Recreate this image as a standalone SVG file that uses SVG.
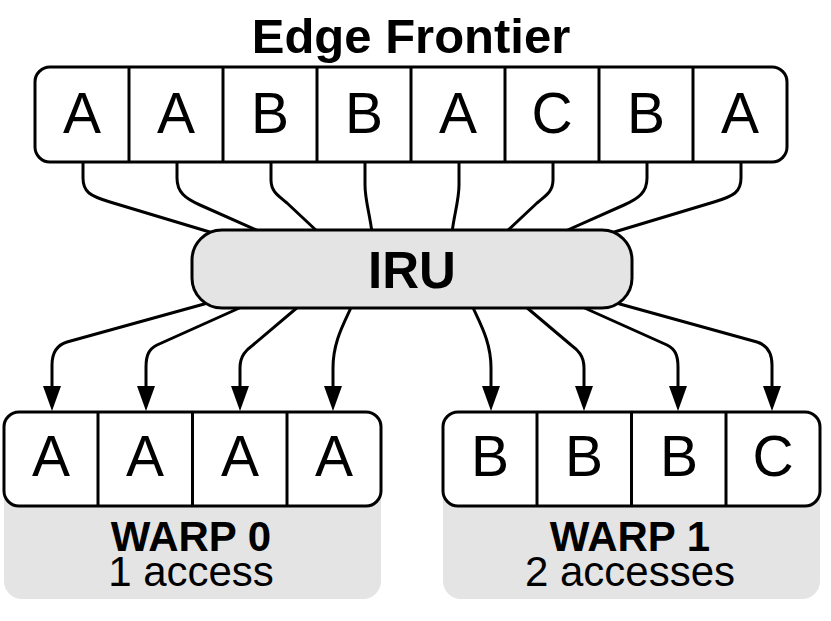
<svg xmlns="http://www.w3.org/2000/svg" width="831" height="621" viewBox="0 0 831 621">
<style>
.box{fill:#fff;stroke:#000;stroke-width:3}
.div{stroke:#000;stroke-width:3}
.grey{fill:#e4e4e4}
.conn{fill:none;stroke:#000;stroke-width:3}
.cell{font-family:"Liberation Sans",Arial,sans-serif;font-size:57px;text-anchor:middle;fill:#000}
.bold{font-family:"Liberation Sans",Arial,sans-serif;font-weight:bold;text-anchor:middle;fill:#000}
.norm{font-family:"Liberation Sans",Arial,sans-serif;text-anchor:middle;fill:#000}
</style>
<defs>
<marker id="arr" markerUnits="userSpaceOnUse" markerWidth="26" markerHeight="20" refX="19" refY="9" orient="auto">
<path d="M0,0 L25,9 L0,18 z" fill="#000"/>
</marker>
</defs>
<rect width="831" height="621" fill="#fff"/>
<text class="bold" x="411" y="53" font-size="49">Edge Frontier</text>

<g id="connectors">
<path class="conn" d="M83,162 V178 C83,192 90,196 110,202 L213,233"/>
<path class="conn" d="M177,162 V178 C177,192 185,198.5 200,205 L263,233"/>
<path class="conn" d="M271,162 V180 C271,192 279,196 287,203 L319,233"/>
<path class="conn" d="M365,162 V185 C365,200 370,215 372,233"/>
<path class="conn" d="M459,162 V185 C459,200 454,215 452,233"/>
<path class="conn" d="M553,162 V180 C553,192 545,196 537,203 L505,233"/>
<path class="conn" d="M647,162 V178 C647,192 639,198.5 624,205 L561,233"/>
<path class="conn" d="M741,162 V178 C741,192 734,196 714,202 L611,233"/>

<path class="conn" marker-end="url(#arr)" d="M215,301 L67,342 C57,345 52,352 52,365 V405"/>
<path class="conn" marker-end="url(#arr)" d="M255,301 L157,345 C149,349 146,355 146,367 V405"/>
<path class="conn" marker-end="url(#arr)" d="M305,301 L253,345 C246,350 240,356 240,368 V405"/>
<path class="conn" marker-end="url(#arr)" d="M354,301 C345,322 333,340 333,368 V405"/>
<path class="conn" marker-end="url(#arr)" d="M470,301 C479,322 491,340 491,368 V405"/>
<path class="conn" marker-end="url(#arr)" d="M519,301 L571,345 C578,350 584,356 584,368 V405"/>
<path class="conn" marker-end="url(#arr)" d="M569,301 L667,345 C675,349 678,355 678,367 V405"/>
<path class="conn" marker-end="url(#arr)" d="M609,301 L757,342 C767,345 772,352 772,365 V405"/>
</g>

<g id="edge-frontier">
<rect class="box" x="35" y="67" width="752" height="95" rx="15"/>
<line class="div" x1="129" y1="67" x2="129" y2="162"/>
<line class="div" x1="223" y1="67" x2="223" y2="162"/>
<line class="div" x1="317" y1="67" x2="317" y2="162"/>
<line class="div" x1="411" y1="67" x2="411" y2="162"/>
<line class="div" x1="505" y1="67" x2="505" y2="162"/>
<line class="div" x1="599" y1="67" x2="599" y2="162"/>
<line class="div" x1="693" y1="67" x2="693" y2="162"/>
<text class="cell" x="82" y="133">A</text>
<text class="cell" x="176" y="133">A</text>
<text class="cell" x="270" y="133">B</text>
<text class="cell" x="364" y="133">B</text>
<text class="cell" x="458" y="133">A</text>
<text class="cell" x="552" y="133">C</text>
<text class="cell" x="646" y="133">B</text>
<text class="cell" x="740" y="133">A</text>
</g>

<g id="iru">
<rect x="192" y="230" width="440" height="78" rx="30" fill="#e4e4e4" stroke="#000" stroke-width="3"/>
<text class="bold" x="412" y="288" font-size="51">IRU</text>
</g>

<g id="warp0">
<rect class="grey" x="4" y="412" width="377" height="187" rx="18"/>
<rect class="box" x="4" y="412" width="377" height="94" rx="15"/>
<line class="div" x1="98" y1="412" x2="98" y2="506"/>
<line class="div" x1="192.5" y1="412" x2="192.5" y2="506"/>
<line class="div" x1="287" y1="412" x2="287" y2="506"/>
<text class="cell" x="51" y="476">A</text>
<text class="cell" x="145" y="476">A</text>
<text class="cell" x="240" y="476">A</text>
<text class="cell" x="334" y="476">A</text>
<text class="bold" x="191" y="551" font-size="42">WARP 0</text>
<text class="norm" x="191" y="586" font-size="42">1 access</text>
</g>

<g id="warp1">
<rect class="grey" x="443" y="412" width="377" height="187" rx="18"/>
<rect class="box" x="443" y="412" width="377" height="94" rx="15"/>
<line class="div" x1="537" y1="412" x2="537" y2="506"/>
<line class="div" x1="631.5" y1="412" x2="631.5" y2="506"/>
<line class="div" x1="726" y1="412" x2="726" y2="506"/>
<text class="cell" x="490" y="476">B</text>
<text class="cell" x="584" y="476">B</text>
<text class="cell" x="679" y="476">B</text>
<text class="cell" x="773" y="476">C</text>
<text class="bold" x="630" y="551" font-size="42">WARP 1</text>
<text class="norm" x="630" y="586" font-size="42">2 accesses</text>
</g>
</svg>
